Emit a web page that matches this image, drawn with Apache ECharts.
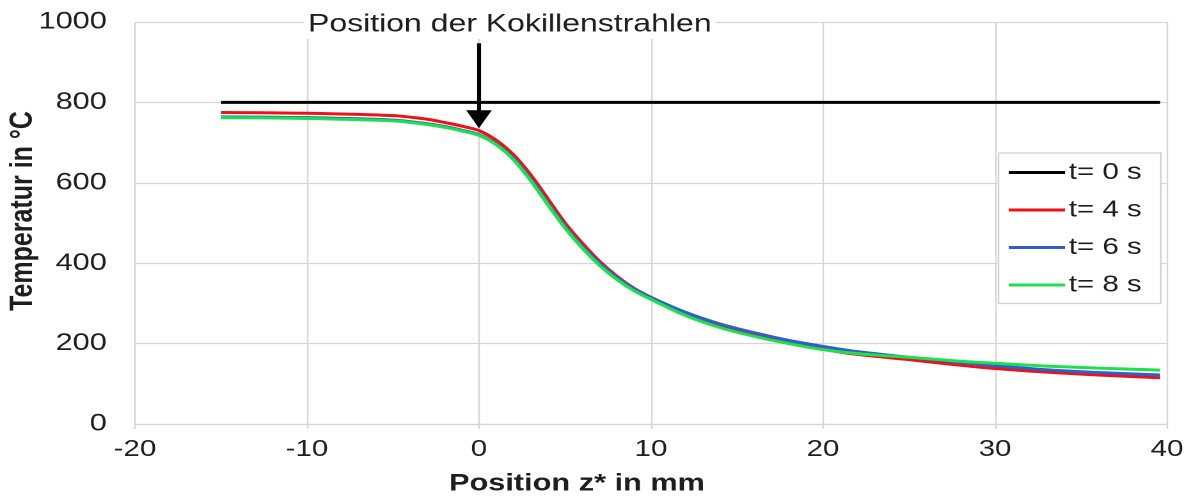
<!DOCTYPE html>
<html>
<head>
<meta charset="utf-8">
<script src="https://cdn.jsdelivr.net/npm/echarts@6/dist/echarts.min.js"></script>
<style>
  html, body { margin: 0; padding: 0; background: #fff; overflow: hidden; }
  /* the chart is laid out on a narrower canvas and widened horizontally */
  #chart { width: 938px; height: 497px; transform: scaleX(1.2793); transform-origin: 0 0; }
</style>
</head>
<body>
<div id="chart"></div>
<script>
// Position z* in mm
const xPos = [-15, -10, -5, -3, -2, -1, 0, 1, 2, 3, 4, 5, 6, 7, 8, 9, 10, 12, 14, 16, 18, 20, 22, 25, 28, 30, 33, 36, 39.6];
// initial state, t = 0 s
const xPos0 = [-15, 39.6];
const temp0 = [800, 800];
// temperature profiles in °C
const temp4 = [775, 773, 767, 758, 750, 741, 730, 706, 670, 620, 560, 500, 450, 405, 368, 338, 315, 275, 245, 222, 203, 186, 173, 160, 146, 138, 129, 122, 115];
const temp6 = [764, 762, 756, 747, 740, 731, 720, 697, 661, 610, 550, 492, 442, 400, 365, 337, 315, 278, 249, 227, 208, 193, 180, 166, 153, 145, 135, 128, 122];
const temp8 = [762, 760, 754, 745, 738, 729, 718, 695, 658, 606, 546, 488, 438, 395, 360, 332, 310, 270, 240, 218, 200, 185, 175, 166, 156, 151, 144, 139, 134];
const seriesNames = ['t= 0 s', 't= 4 s', 't= 6 s', 't= 8 s'];
const xTicks = { min: -20, max: 40, step: 10 };
const yTicks = { min: 0, max: 1000, step: 200 };
// arrow marking the position of the mould jets
const arrowX = 0;
const arrowFrom = 947;
const arrowTo = 758;

const pairs = (xs, ys) => xs.map((x, i) => [x, ys[i]]);
const FONT = "'Liberation Sans', Arial, sans-serif";
const TXT = '#1e1e1e';
const GRID = '#d6d6d6';

const chart = echarts.init(document.getElementById('chart'), null, { renderer: 'canvas', devicePixelRatio: 2 });

const curve = (name, color, data) => ({
  name, type: 'line', data, showSymbol: false, symbol: 'none',
  smooth: 0.3,
  lineStyle: { color, width: 3 }, itemStyle: { color }
});

chart.setOption({
  animation: false,
  grid: { left: 105.5, right: 25.8, top: 22, bottom: 73 },
  xAxis: {
    type: 'value', min: xTicks.min, max: xTicks.max, interval: xTicks.step,
    axisLine: { show: true, lineStyle: { color: GRID, width: 1.2 } },
    axisTick: { show: true, inside: false, length: 5, lineStyle: { color: GRID, width: 1.2 } },
    splitLine: { show: true, lineStyle: { color: GRID, width: 1.2 } },
    axisLabel: { color: TXT, fontFamily: FONT, fontSize: 23, margin: 14, formatter: v => String(v) }
  },
  yAxis: {
    type: 'value', min: yTicks.min, max: yTicks.max, interval: yTicks.step,
    axisLine: { show: true, lineStyle: { color: GRID, width: 1.2 } },
    axisTick: { show: false },
    splitLine: { show: true, lineStyle: { color: GRID, width: 1.2 } },
    axisLabel: { color: TXT, fontFamily: FONT, fontSize: 24, margin: 22, formatter: v => String(v) }
  },
  legend: {
    orient: 'vertical', left: 780.5, top: 153,
    data: seriesNames.map(n => ({ name: n, icon: 'rect' })),
    backgroundColor: '#fff', borderColor: '#d0d0d0', borderWidth: 1.2,
    padding: [8, 15, 7, 8], itemGap: 14.5, itemWidth: 44, itemHeight: 3,
    textStyle: { color: TXT, fontFamily: FONT, fontSize: 23, lineHeight: 22, padding: [0, 0, 0, -2] }
  },
  graphic: [
    {
      type: 'text', x: 398.5, y: 24.5, z: 100,
      style: {
        text: 'Position der Kokillenstrahlen', fill: TXT,
        fontSize: 25, fontFamily: FONT,
        align: 'center', verticalAlign: 'middle',
        backgroundColor: '#fff', padding: [2, 3, 2, 3]
      }
    },
    {
      type: 'text', x: 451, y: 484, z: 100,
      style: { text: 'Position z* in mm', fill: TXT, fontSize: 24, fontWeight: 'bold', fontFamily: FONT, align: 'center', verticalAlign: 'middle' }
    },
    {
      type: 'text', x: 18, y: 211, rotation: Math.PI / 2, z: 100,
      style: { text: 'Temperatur in °C', fill: TXT, fontSize: 25, fontWeight: 'bold', fontFamily: FONT, align: 'center', verticalAlign: 'middle' }
    }
  ],
  series: [
    Object.assign(curve(seriesNames[0], '#000000', pairs(xPos0, temp0)), {
      smooth: false,
      markLine: {
        silent: true, animation: false,
        symbol: ['none', 'triangle'], symbolSize: [20, 18],
        label: { show: false },
        lineStyle: { color: '#000', width: 3.1, type: 'solid' },
        emphasis: { disabled: true },
        data: [[{ coord: [arrowX, arrowFrom] }, { coord: [arrowX, arrowTo] }]]
      }
    }),
    curve(seriesNames[1], '#f01212', pairs(xPos, temp4)),
    curve(seriesNames[2], '#2f5fcc', pairs(xPos, temp6)),
    curve(seriesNames[3], '#1ee04c', pairs(xPos, temp8))
  ]
});
</script>
</body>
</html>
